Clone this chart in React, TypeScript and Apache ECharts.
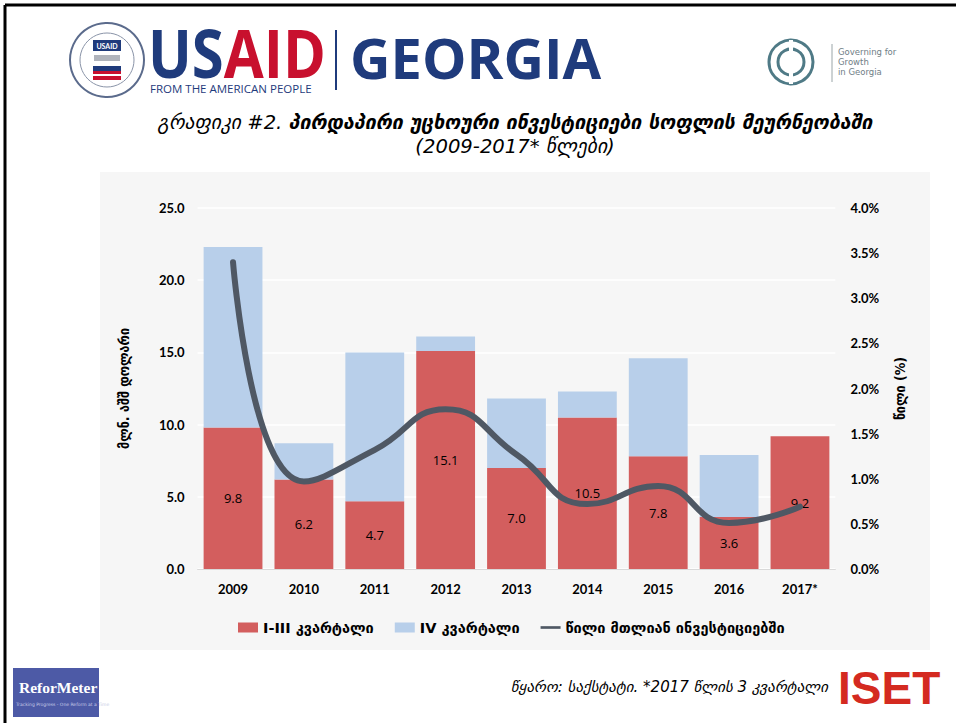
import React, { useEffect, useRef } from "react";
import * as echarts from "echarts";

const years = ["2009", "2010", "2011", "2012", "2013", "2014", "2015", "2016", "2017*"];
const q13 = [9.8, 6.2, 4.7, 15.1, 7.0, 10.5, 7.8, 3.6, 9.2];
const q4 = [12.5, 2.5, 10.3, 1.0, 4.8, 1.8, 6.8, 4.3, 0];
const share = [3.4, 0.97, 1.32, 1.77, 1.27, 0.72, 0.92, 0.51, 0.69];
const seriesNames = ["I-III კვარტალი", "IV კვარტალი", "წილი მთლიან ინვესტიციებში"];
const leftAxisName = "მლნ. აშშ დოლარი";
const rightAxisName = "წილი (%)";

const GEO = "'DejaVu Sans Condensed', 'DejaVu Sans', sans-serif";
const GEOW = "'DejaVu Sans', sans-serif";
const NUM = "Lato, 'Open Sans', sans-serif";
const NAVY = "#1f3b7c";
const RED = "#c8102e";
const LINE = "#4f5864";

export default function App() {
  const ref = useRef<HTMLDivElement>(null);
  useEffect(() => {
    if (!ref.current) return;
    const chart = echarts.init(ref.current, undefined, { renderer: "svg" });
    const option: any = {
      animation: false,
      backgroundColor: "#ffffff",
      graphic: [
        // frame
        { type: "line", shape: { x1: 5, y1: 5, x2: 960, y2: 5 }, style: { stroke: "#000", lineWidth: 3 }, z: 100 },
        { type: "line", shape: { x1: 5, y1: 5, x2: 5, y2: 730 }, style: { stroke: "#000", lineWidth: 3 }, z: 100 },
        // chart panel
        { type: "rect", shape: { x: 100, y: 172, width: 830, height: 478 }, style: { fill: "#f6f6f6" }, z: -10 },
        // USAID seal
        { type: "circle", shape: { cx: 107, cy: 60, r: 37 }, style: { fill: "#fff", stroke: "#5b6b8c", lineWidth: 2 } },
        { type: "circle", shape: { cx: 107, cy: 60, r: 27 }, style: { fill: "#fff", stroke: "#8a94a8", lineWidth: 1 } },
        { type: "rect", shape: { x: 93, y: 40, width: 28, height: 11 }, style: { fill: NAVY } },
        { type: "text", style: { x: 107, y: 45.5, text: "USAID", fill: "#fff", font: "bold 7px Lato", align: "center", verticalAlign: "middle" } },
        { type: "rect", shape: { x: 94, y: 55, width: 26, height: 6 }, style: { fill: "#b0b4bc" } },
        { type: "rect", shape: { x: 93, y: 66, width: 28, height: 5 }, style: { fill: NAVY } },
        { type: "rect", shape: { x: 93, y: 71, width: 28, height: 3 }, style: { fill: RED } },
        { type: "rect", shape: { x: 93, y: 74, width: 28, height: 2 }, style: { fill: "#fff" } },
        { type: "rect", shape: { x: 93, y: 76, width: 28, height: 4 }, style: { fill: RED } },
        // USAID wordmark
        {
          type: "text",
          x: 148,
          y: 52,
          scaleY: 1.15,
          style: {
            x: 0, y: 0, text: "{u|US}{a|AID}", verticalAlign: "middle",
            rich: {
              u: { fontFamily: "'Open Sans', Lato, sans-serif", fontWeight: "bold", fontSize: 58, fill: NAVY },
              a: { fontFamily: "'Open Sans', Lato, sans-serif", fontWeight: "bold", fontSize: 58, fill: RED },
            },
          },
        },
        { type: "text", style: { x: 150, y: 88, text: "FROM THE AMERICAN PEOPLE", fill: NAVY, font: "11.5px 'Open Sans', Lato, sans-serif", verticalAlign: "middle" } },
        { type: "line", shape: { x1: 336, y1: 30, x2: 336, y2: 90 }, style: { stroke: NAVY, lineWidth: 2 } },
        { type: "text", style: { x: 350, y: 57, text: "GEORGIA", fill: NAVY, font: "bold 56px 'Open Sans', Lato, sans-serif", verticalAlign: "middle" } },
        // Governing for Growth logo
        { type: "circle", shape: { cx: 791, cy: 62, r: 22 }, style: { fill: "none", stroke: "#4f7a86", lineWidth: 3 } },
        { type: "circle", shape: { cx: 791, cy: 62, r: 13 }, style: { fill: "none", stroke: "#4f7a86", lineWidth: 3 } },
        { type: "line", shape: { x1: 791, y1: 40, x2: 791, y2: 84 }, style: { stroke: "#fff", lineWidth: 4 } },
        { type: "line", shape: { x1: 832, y1: 44, x2: 832, y2: 82 }, style: { stroke: "#9aa5a8", lineWidth: 1 } },
        { type: "text", style: { x: 838, y: 62, text: "Governing for\nGrowth\nin Georgia", fill: "#6f7e86", font: "8.5px 'DejaVu Sans', sans-serif", lineHeight: 10, verticalAlign: "middle" } },
        // title
        {
          type: "text",
          style: {
            x: 515, y: 122, align: "center", verticalAlign: "middle",
            text: "{n|გრაფიკი #2. }{b|პირდაპირი უცხოური ინვესტიციები სოფლის მეურნეობაში}",
            rich: {
              n: { fontFamily: GEOW, fontStyle: "italic", fontSize: 19.6, fill: "#000" },
              b: { fontFamily: GEOW, fontStyle: "italic", fontWeight: "bold", fontSize: 19.6, fill: "#000" },
            },
          },
        },
        { type: "text", style: { x: 515, y: 146, align: "center", verticalAlign: "middle", text: "(2009-2017* წლები)", fill: "#000", font: "italic 19.6px " + GEOW } },
        // footer
        { type: "rect", shape: { x: 13, y: 668, width: 86, height: 49 }, style: { fill: "#4d5aa6" } },
        { type: "text", style: { x: 19, y: 687, text: "ReforMeter", fill: "#fff", font: "bold 15.5px 'Liberation Serif', serif", verticalAlign: "middle" } },
        { type: "text", style: { x: 16, y: 704, text: "Tracking Progress - One Reform at a Time", fill: "#c8cce6", font: "4.5px 'DejaVu Sans', sans-serif", verticalAlign: "middle" } },
        { type: "text", style: { x: 828, y: 687, align: "right", verticalAlign: "middle", text: "წყარო: საქსტატი. *2017 წლის 3 კვარტალი", fill: "#000", font: "italic 15px " + GEOW } },
        { type: "text", style: { x: 838, y: 688, verticalAlign: "middle", text: "ISET", fill: "#d42a20", font: "bold 46px 'Liberation Sans', sans-serif" } },
      ],
      grid: { left: 197.6, right: 956 - 835.4, top: 208, bottom: 723 - 569, containLabel: false },
      legend: {
        left: 233,
        top: 615,
        itemWidth: 20,
        itemHeight: 10,
        itemGap: 21,
        textStyle: { fontFamily: GEOW, fontWeight: "bold", fontSize: 14.5, color: "#000" },
        data: [
          { name: seriesNames[0], icon: "rect" },
          { name: seriesNames[1], icon: "rect" },
          { name: seriesNames[2], icon: "path://M0,0 L0,0 M0,3 L30,3 L30,7 L0,7 Z M30,10 L30,10" },
        ],
      },
      xAxis: {
        type: "category",
        data: years,
        axisTick: { show: false },
        axisLine: { lineStyle: { color: "#d9d9d9", width: 1 } },
        axisLabel: { fontFamily: NUM, fontWeight: "bold", fontSize: 13, color: "#000", margin: 13 },
      },
      yAxis: [
        {
          type: "value",
          min: 0,
          max: 25,
          interval: 5,
          name: leftAxisName,
          nameLocation: "middle",
          nameGap: 67,
          nameRotate: 90,
          nameTextStyle: { fontFamily: GEO, fontWeight: "bold", fontSize: 14, color: "#000" },
          axisLine: { show: false },
          axisTick: { show: false },
          axisLabel: { fontFamily: NUM, fontWeight: "bold", fontSize: 13, color: "#000", margin: 13, formatter: (v: number) => v.toFixed(1) },
          splitLine: { lineStyle: { color: "#ffffff", width: 1.5 } },
        },
        {
          type: "value",
          min: 0,
          max: 4,
          interval: 0.5,
          name: rightAxisName,
          nameLocation: "middle",
          nameGap: 58,
          nameRotate: 90,
          nameTextStyle: { fontFamily: GEO, fontWeight: "bold", fontSize: 14, color: "#000" },
          axisLine: { show: false },
          axisTick: { show: false },
          axisLabel: { fontFamily: NUM, fontWeight: "bold", fontSize: 13, color: "#000", margin: 15, formatter: (v: number) => v.toFixed(1) + "%" },
          splitLine: { show: false },
        },
      ],
      series: [
        {
          name: seriesNames[0],
          type: "bar",
          stack: "total",
          data: q13,
          barCategoryGap: "17%",
          itemStyle: { color: "#d35e5e" },
          label: { show: true, position: "inside", color: "#000", fontFamily: "'Open Sans', Lato, sans-serif", fontSize: 13, formatter: (p: any) => Number(p.value).toFixed(1) },
        },
        {
          name: seriesNames[1],
          type: "bar",
          stack: "total",
          data: q4,
          itemStyle: { color: "#b8cfea" },
        },
        {
          name: seriesNames[2],
          type: "line",
          yAxisIndex: 1,
          data: share,
          smooth: 0.5,
          symbol: "none",
          lineStyle: { color: LINE, width: 6, cap: "round" },
          itemStyle: { color: LINE },
          z: 5,
        },
      ],
    };
    chart.setOption(option);
    return () => chart.dispose();
  }, []);
  return (
    <div
      ref={ref}
      style={{ position: "fixed", left: 0, top: 0, width: 956, height: 723 }}
    />
  );
}
